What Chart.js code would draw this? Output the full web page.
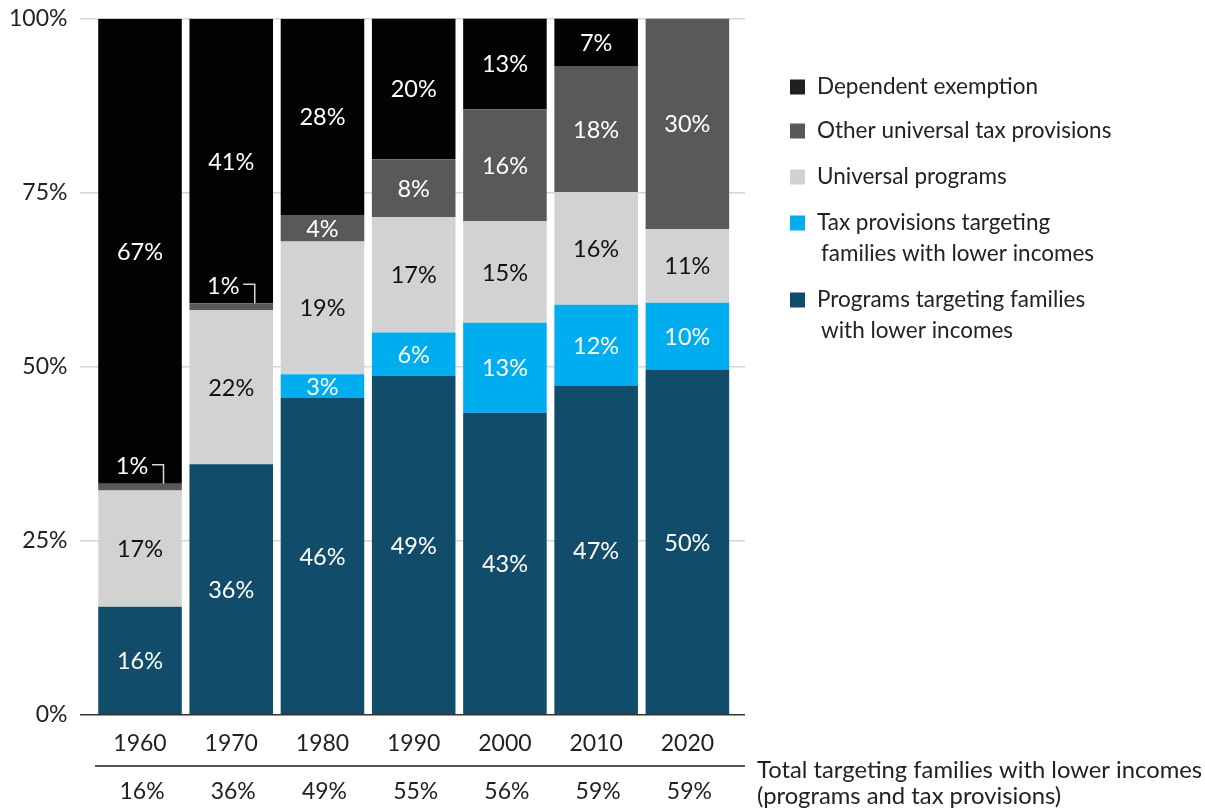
<!DOCTYPE html>
<html>
<head>
<meta charset="utf-8">
<script src="https://cdn.jsdelivr.net/npm/chart.js@4/dist/chart.umd.min.js"></script>
<style>
  html, body { margin: 0; padding: 0; background: #ffffff; }
  #wrap { width: 1205px; height: 811px; position: relative; }
</style>
</head>
<body>
<div id="wrap"><canvas id="c" width="1205" height="811"></canvas></div>
<script>
// ---- data ----
const categories = ['1960', '1970', '1980', '1990', '2000', '2010', '2020'];
const programsTargeting = [15.5, 36.0, 45.5, 48.7, 43.4, 47.3, 49.6];
const taxTargeting = [0, 0, 3.4, 6.2, 12.9, 11.6, 9.6];
const universalPrograms = [16.7, 22.1, 19.1, 16.6, 14.6, 16.2, 10.6];
const otherUniversalTax = [1.0, 1.0, 3.8, 8.3, 16.1, 18.1, 30.4];
const dependentExemption = [66.8, 40.9, 28.2, 20.3, 13.1, 6.9, 0];
const totalTargeting = ['16%', '36%', '49%', '55%', '56%', '59%', '59%'];
const yTickValues = [0, 25, 50, 75, 100];
const totalCaption = ['Total targeting families with lower incomes', '(programs and tax provisions)'];

const legendEntries = [
  { lines: ['Dependent exemption'], color: '#231f20' },
  { lines: ['Other universal tax provisions'], color: '#5a5758' },
  { lines: ['Universal programs'], color: '#d1d1d1' },
  { lines: ['Tax provisions targeting', 'families with lower incomes'], color: '#00aeef' },
  { lines: ['Programs targeting families', 'with lower incomes'], color: '#0f4b6a' }
];

const FONT = 'Lato, "Open Sans", sans-serif';
const TEXT = '#222222';

const datasets = [
  { label: 'Programs targeting families with lower incomes', data: programsTargeting, backgroundColor: '#114c6a', textColor: '#ffffff' },
  { label: 'Tax provisions targeting families with lower incomes', data: taxTargeting, backgroundColor: '#00adee', textColor: '#ffffff' },
  { label: 'Universal programs', data: universalPrograms, backgroundColor: '#d2d2d2', textColor: '#111111' },
  { label: 'Other universal tax provisions', data: otherUniversalTax, backgroundColor: '#5b5859', textColor: '#ffffff' },
  { label: 'Dependent exemption', data: dependentExemption, backgroundColor: '#040303', textColor: '#ffffff' }
];

const gridPlugin = {
  id: 'grid',
  beforeDatasetsDraw(chart) {
    const ctx = chart.ctx, y = chart.scales.y;
    ctx.save();
    ctx.strokeStyle = '#d6d6d6';
    ctx.lineWidth = 1.5;
    yTickValues.forEach(v => {
      if (v === 0) return;
      const py = y.getPixelForValue(v);
      ctx.beginPath(); ctx.moveTo(80, py); ctx.lineTo(745, py); ctx.stroke();
    });
    ctx.restore();
  },
  afterDatasetsDraw(chart) {
    const ctx = chart.ctx, y = chart.scales.y, x = chart.scales.x;
    ctx.save();
    // zero line
    const py0 = y.getPixelForValue(0);
    ctx.strokeStyle = '#333333';
    ctx.lineWidth = 1.5;
    ctx.beginPath(); ctx.moveTo(80, py0); ctx.lineTo(745, py0); ctx.stroke();

    // value labels
    ctx.font = '23.5px ' + FONT;
    ctx.textAlign = 'center';
    ctx.textBaseline = 'middle';
    chart.data.datasets.forEach((ds, di) => {
      const meta = chart.getDatasetMeta(di);
      meta.data.forEach((el, i) => {
        const v = ds.data[i];
        if (!v) return;
        const txt = Math.round(v) + '%';
        const top = Math.min(el.y, el.base);
        const bot = Math.max(el.y, el.base);
        if (v < 2) {
          // small segment: label above with bracket
          const ty = top - 17;
          ctx.fillStyle = '#ffffff';
          ctx.fillText(txt, el.x - 8, ty);
          ctx.strokeStyle = '#d8d8d8';
          ctx.lineWidth = 1.5;
          ctx.beginPath();
          ctx.moveTo(el.x + 12, ty - 2);
          ctx.lineTo(el.x + 23.5, ty - 2);
          ctx.lineTo(el.x + 23.5, top);
          ctx.stroke();
        } else {
          ctx.fillStyle = ds.textColor;
          ctx.fillText(txt, el.x, (top + bot) / 2 + 1);
        }
      });
    });

    // separator & totals row
    ctx.strokeStyle = '#555555';
    ctx.lineWidth = 2;
    ctx.beginPath(); ctx.moveTo(95, 766); ctx.lineTo(745, 766); ctx.stroke();
    ctx.fillStyle = TEXT;
    ctx.textAlign = 'center';
    ctx.font = '23px ' + FONT;
    categories.forEach((c, i) => {
      ctx.fillText(totalTargeting[i], x.getPixelForValue(i) + 2, 792);
    });
    ctx.textAlign = 'left';
    ctx.font = '23.8px ' + FONT;
    ctx.fillText(totalCaption[0], 757, 770);
    ctx.fillText(totalCaption[1], 757, 796);

    // legend
    ctx.font = '22.5px ' + FONT;
    const rowY = [87, 131, 177, 223, 300];
    legendEntries.forEach((e, k) => {
      const yy = rowY[k];
      ctx.fillStyle = e.color;
      ctx.fillRect(790, yy - 7.5, 15, 15);
      ctx.fillStyle = TEXT;
      e.lines.forEach((ln, j) => {
        ctx.fillText(ln, j === 0 ? 817 : 821, yy + j * 31);
      });
    });
    ctx.restore();
  }
};

new Chart(document.getElementById('c'), {
  type: 'bar',
  data: { labels: categories, datasets: datasets },
  options: {
    responsive: false,
    animation: false,
    devicePixelRatio: 1,
    layout: { padding: { top: 18.7, right: 472, bottom: 0, left: 0 } },
    datasets: { bar: { categoryPercentage: 1, barPercentage: 0.916, borderWidth: 0 } },
    plugins: { legend: { display: false }, tooltip: { enabled: false } },
    scales: {
      x: {
        stacked: true,
        grid: { display: false },
        border: { display: false },
        ticks: { color: TEXT, font: { family: FONT, size: 23 }, padding: 7 },
        afterFit(scale) { scale.height = 96.3; }
      },
      y: {
        stacked: true,
        min: 0,
        max: 100,
        grid: { display: false },
        border: { display: false },
        afterBuildTicks(scale) { scale.ticks = yTickValues.map(v => ({ value: v })); },
        ticks: {
          color: TEXT,
          font: { family: FONT, size: 23 },
          padding: 19,
          callback: v => v + '%'
        },
        afterFit(scale) { scale.width = 94.4; scale.paddingTop = 0; scale.paddingBottom = 0; }
      }
    }
  },
  plugins: [gridPlugin]
});
</script>
</body>
</html>
